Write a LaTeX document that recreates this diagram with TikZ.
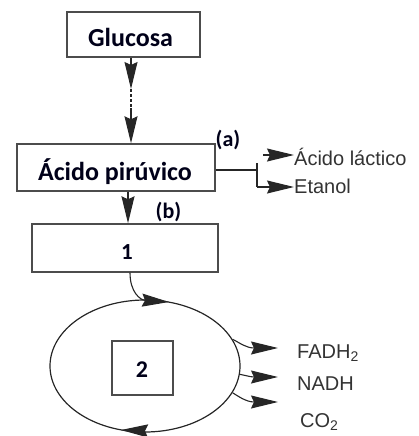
\documentclass[tikz,border=0pt]{standalone}
\usepackage{fontspec}
\setmainfont{Carlito}
\newfontfamily\arialf{Liberation Sans}
\usetikzlibrary{arrows.meta,shapes.geometric}
\begin{document}
\begin{tikzpicture}[x=1pt,y=-1pt,
  box/.style={draw=black!70, line width=1.4pt, fill=white, inner sep=0pt},
  ln/.style={line width=1.1pt, draw=black!85},
  arr/.style={ln, -{Stealth[length=27pt,width=13pt,inset=3pt]}},
  bt/.style={font=\fontsize{26}{26}\selectfont\bfseries, text=black!90!blue, inner sep=0pt},
  lab/.style={font=\arialf\fontsize{20}{20}\selectfont, text=black!80, inner sep=0pt},
]
\useasboundingbox (0,0) rectangle (418,436);

% boxes
\node[box, minimum width=133pt, minimum height=45pt] (glu) at (133.5,34.5) {};
\node[bt, anchor=base] (glut) at (130.5,47) {Glucosa};
\node[box, minimum width=198pt, minimum height=47pt] (aci) at (116,167.5) {};
\node[bt, anchor=base] (acit) at (115,180) {Ácido pirúvico};
\node[box, minimum width=186pt, minimum height=48pt] (b1) at (125,248) {};
\node[bt, anchor=base, font=\fontsize{23}{23}\selectfont\bfseries] (b1t) at (127,259) {1};

% cycle
\node[ellipse, draw=black!85, line width=1.2pt, minimum width=190pt, minimum height=132pt, inner sep=0pt] (cyc) at (145,366) {};
\node[box, line width=1.2pt, minimum width=61pt, minimum height=54pt] (b2) at (142.5,368) {};
\node[bt, anchor=base, font=\fontsize{24}{24}\selectfont\bfseries] (b2t) at (142,377) {2};

% labels
\node[bt, font=\fontsize{22}{22}\selectfont\bfseries] (la) at (228,140) {(a)};
\node[bt, font=\fontsize{22}{22}\selectfont\bfseries] (lb) at (168.5,212) {(b)};
\node[lab, anchor=base west] (lac) at (294,165) {Ácido láctico};
\node[lab, anchor=base west] (eta) at (294,193) {Etanol};
\node[lab, anchor=base west] (fad) at (297,358) {FADH\textsubscript{2}};
\node[lab, anchor=base west] (nad) at (297,390) {NADH};
\node[lab, anchor=base west] (co2) at (300,427) {CO\textsubscript{2}};

% glucose -> pyruvate
\coordinate (g2) at (131,89);
\coordinate (g3) at (131,108);
\draw[arr] (glu.south -| g2) -- (g2);
\draw[ln, dash pattern=on 3pt off 2pt] (g2) -- (g3);
\draw[arr] (g3) -- (aci.north -| g3);

% fermentation branch
\coordinate (j) at (257,170);
\coordinate (jt) at (257,163);
\coordinate (jb) at (257,187);
\draw[ln] (aci.east |- j) -- (j);
\draw[ln] (jt) -- (jb);
\draw[arr] (jb) -- (eta.west |- jb);
\coordinate (lt) at (263,155);
\draw[arr] (lt) -- (lac.west |- lt);

% pyruvate -> box 1
\coordinate (bx) at (128,0);
\draw[arr] (aci.south -| bx) -- (b1.north -| bx);

% box 1 -> cycle
\coordinate (b1o) at (130,272);
\draw[arr] (b1.south -| b1o) .. controls (130,292) and (140,300) .. (169,302);

% cycle direction arrow
\draw[arr] (139,430.6) -- (121,430);

% outputs
\draw[arr] (cyc.17) .. controls (240,343) and (246,348) .. (278,348);
\draw[arr] (cyc.-5) .. controls (252,377) .. (278,377);
\draw[arr] (cyc.-17) .. controls (238,396) and (246,402) .. (278,402);
\end{tikzpicture}
\end{document}
